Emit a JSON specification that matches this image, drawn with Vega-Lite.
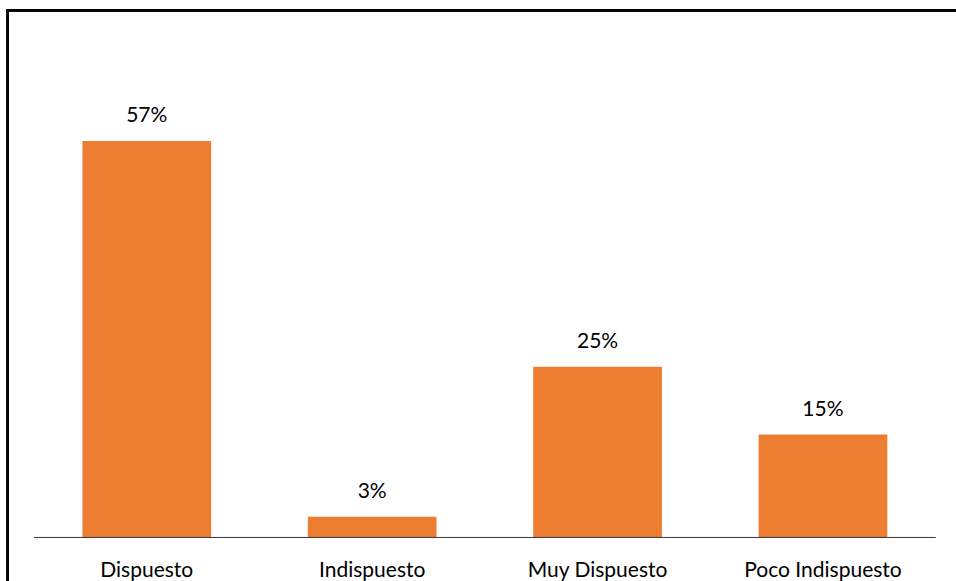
{
  "$schema": "https://vega.github.io/schema/vega-lite/v6.json",
  "autosize": {"type": "none"},
  "padding": {"left": 7.7, "top": 10.3, "right": -51.7, "bottom": -79.3},
  "width": 1000,
  "height": 650,
  "background": "white",
  "config": {
    "view": {"stroke": null},
    "font": "Lato",
    "text": {"font": "Lato"}
  },
  "data": {
    "values": [
      {"categoria": "Dispuesto", "pct": 0.574},
      {"categoria": "Indispuesto", "pct": 0.03},
      {"categoria": "Muy Dispuesto", "pct": 0.247},
      {"categoria": "Poco Indispuesto", "pct": 0.149}
    ]
  },
  "layer": [
    {
      "mark": {"type": "bar", "color": "#ED7D31", "width": {"band": 0.571}},
      "encoding": {
        "x": {
          "field": "categoria",
          "type": "nominal",
          "sort": null,
          "scale": {"paddingInner": 0, "paddingOuter": 0.2183, "align": 0.268},
          "axis": {
            "title": null,
            "orient": "bottom",
            "offset": -122.8,
            "domain": false,
            "ticks": false,
            "tickSize": 0,
            "labelPadding": 38.5,
            "labelBaseline": "alphabetic",
            "labelAngle": 0,
            "labelFont": "Lato",
            "labelFontSize": 21,
            "labelColor": "black",
            "labelLimit": 0
          }
        },
        "y": {
          "field": "pct",
          "type": "quantitative",
          "scale": {"domain": [-0.1778, 0.7632], "nice": false, "zero": false},
          "axis": null
        }
      }
    },
    {
      "mark": {"type": "bar", "fill": "transparent", "stroke": "#404040", "strokeWidth": 1, "width": {"band": 1}},
      "encoding": {
        "x": {
          "field": "categoria",
          "type": "nominal",
          "sort": null,
          "scale": {"paddingInner": 0, "paddingOuter": 0.2183, "align": 0.268},
          "axis": {
            "title": null,
            "orient": "bottom",
            "offset": -122.8,
            "domain": false,
            "ticks": false,
            "tickSize": 0,
            "labelPadding": 38.5,
            "labelBaseline": "alphabetic",
            "labelAngle": 0,
            "labelFont": "Lato",
            "labelFontSize": 21,
            "labelColor": "black",
            "labelLimit": 0
          }
        },
        "y": {"datum": 0, "type": "quantitative", "axis": null},
        "y2": {"datum": 0}
      }
    },
    {
      "mark": {"type": "text", "baseline": "alphabetic", "dy": -18.7, "fontSize": 21, "color": "black", "font": "Lato"},
      "encoding": {
        "x": {
          "field": "categoria",
          "type": "nominal",
          "sort": null,
          "scale": {"paddingInner": 0, "paddingOuter": 0.2183, "align": 0.268},
          "axis": {
            "title": null,
            "orient": "bottom",
            "offset": -122.8,
            "domain": false,
            "ticks": false,
            "tickSize": 0,
            "labelPadding": 38.5,
            "labelBaseline": "alphabetic",
            "labelAngle": 0,
            "labelFont": "Lato",
            "labelFontSize": 21,
            "labelColor": "black",
            "labelLimit": 0
          }
        },
        "y": {"field": "pct", "type": "quantitative", "axis": null},
        "text": {"field": "pct", "type": "quantitative", "format": ".0%"}
      }
    },
    {
      "mark": {"type": "rule", "color": "black", "strokeWidth": 2.25, "strokeCap": "square"},
      "encoding": {
        "y": {"datum": 0.7632, "type": "quantitative", "axis": null}
      }
    },
    {
      "mark": {"type": "rule", "color": "black", "strokeWidth": 2.25, "strokeCap": "square"},
      "encoding": {
        "x": {"datum": "Dispuesto", "bandPosition": -0.1171}
      }
    }
  ]
}
